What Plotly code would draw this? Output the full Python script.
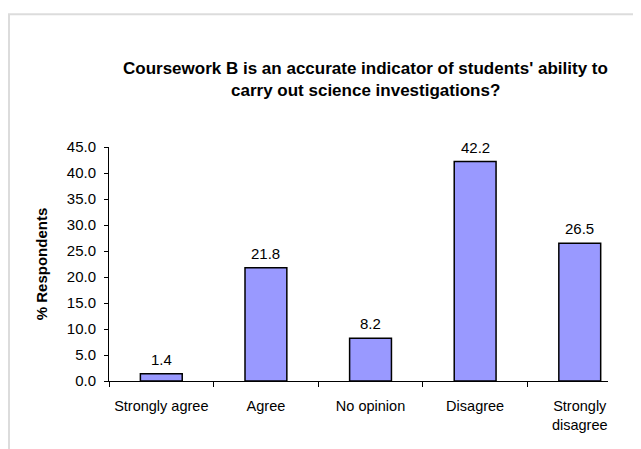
import plotly.graph_objects as go

categories = ["Strongly agree", "Agree", "No opinion", "Disagree", "Strongly disagree"]
tick_labels = ["Strongly agree", "Agree", "No opinion", "Disagree", "Strongly<br>disagree"]
values = [1.4, 21.8, 8.2, 42.2, 26.5]
y_ticks = [0, 5, 10, 15, 20, 25, 30, 35, 40, 45]
title_lines = ["Coursework B is an accurate indicator of students' ability to",
               "carry out science investigations?"]

W, H = 641, 449
OFF = 8  # page body margin
L, R, T, B = 101, 41, 139, 75.5
pw, ph = W - L - R, H - T - B

def px_x(px):
    return (px - OFF - L) / pw

def px_y(py):
    return (H - B - (py - OFF)) / ph

FONT = "Liberation Sans, Arial, sans-serif"

fig = go.Figure(go.Bar(
    x=categories, y=values, width=0.4,
    marker=dict(color="#9999FF", line=dict(color="#000000", width=1.5)),
    cliponaxis=False,
))

annotations = []
for c, v in zip(categories, values):
    annotations.append(dict(
        x=c, y=v, xref="x", yref="y", text=f"{v:.1f}", showarrow=False,
        yanchor="bottom", yshift=4,
        font=dict(family=FONT, size=15, color="#000000"),
    ))
for i, line in enumerate(title_lines):
    annotations.append(dict(
        x=px_x(365), y=px_y(68 + 22 * i), xref="paper", yref="paper",
        text=f"<b>{line}</b>", showarrow=False,
        xanchor="center", yanchor="middle",
        font=dict(family=FONT, size=17, color="#000000"),
    ))

fig.update_layout(
    width=W, height=H,
    margin=dict(l=L, r=R, t=T, b=B, autoexpand=False),
    paper_bgcolor="white", plot_bgcolor="white",
    showlegend=False,
    font=dict(family=FONT, size=15, color="#000000"),
    annotations=annotations,
    xaxis=dict(
        type="category", range=[-0.5, 4.27],
        tickmode="array", tickvals=categories, ticktext=tick_labels,
        tickson="boundaries", ticks="outside", ticklen=5, tickcolor="#000000",
        showline=True, linecolor="#000000", linewidth=1,
        showgrid=False, ticklabelstandoff=12, tickangle=0,
        tickfont=dict(family=FONT, size=14.5),
    ),
    yaxis=dict(
        range=[0, 45], tickmode="array", tickvals=y_ticks,
        ticktext=[f"{v:.1f}" for v in y_ticks],
        ticks="outside", ticklen=4, tickcolor="#000000",
        showline=True, linecolor="#000000", linewidth=1,
        showgrid=False, zeroline=False, ticklabelstandoff=5,
        tickfont=dict(family=FONT, size=15),
        title=dict(text="<b>% Respondents</b>", standoff=15,
                   font=dict(family=FONT, size=15)),
    ),
    shapes=[
        dict(type="line", xref="paper", yref="paper",
             x0=px_x(8), x1=px_x(660), y0=px_y(14), y1=px_y(14),
             line=dict(color="#DCDCDC", width=2)),
        dict(type="line", xref="paper", yref="paper",
             x0=px_x(9), x1=px_x(9), y0=px_y(14), y1=px_y(470),
             line=dict(color="#DCDCDC", width=2)),
    ],
)

fig.write_html("out.html")
